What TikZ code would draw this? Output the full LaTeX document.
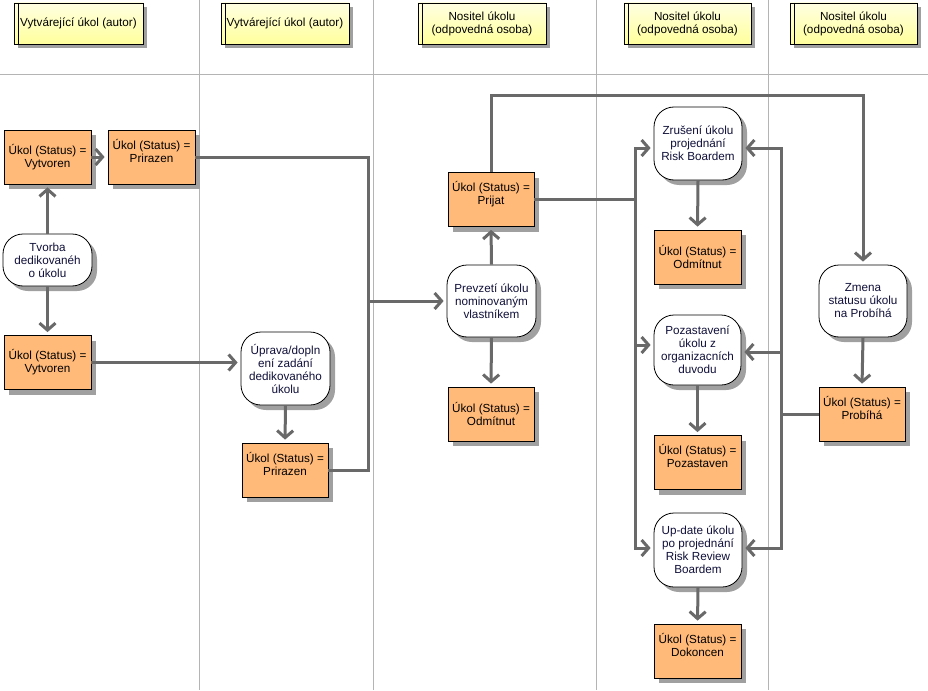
\documentclass[tikz,border=0pt]{standalone}
\usepackage{fontspec}
\setmainfont{Liberation Sans}
\usetikzlibrary{arrows.meta,shadows,backgrounds}

\definecolor{boxorange}{HTML}{FFB978}
\definecolor{shadegray}{HTML}{A0A0A0}
\definecolor{wiregray}{HTML}{696969}
\definecolor{lanegray}{HTML}{B4B4B4}
\definecolor{headtop}{HTML}{FFFFE2}
\definecolor{headbot}{HTML}{FFFF9C}
\definecolor{inktext}{HTML}{10103A}

\tikzset{
  base/.style={inner sep=0pt, align=center, draw=black, line width=0.8pt,
    font=\fontsize{11.7}{13}\selectfont},
  lanehead/.style={base, minimum width=128pt, minimum height=41pt,
    top color=headtop, bottom color=headbot,
    drop shadow={shadow xshift=4pt, shadow yshift=-4pt, fill=shadegray, opacity=1},
    path picture={\draw[line width=0.8pt]
      ([xshift=4pt]path picture bounding box.north west) --
      ([xshift=4pt]path picture bounding box.south west);}},
  statebox/.style={base, fill=boxorange, minimum width=87pt, minimum height=54pt,
    drop shadow={shadow xshift=5pt, shadow yshift=-5pt, fill=shadegray, opacity=1}},
  lifted/.style={text depth=13pt},
  activity/.style={base, fill=white, text=inktext, rounded corners=20pt,
    minimum width=88pt, minimum height=72pt,
    drop shadow={shadow xshift=5pt, shadow yshift=-5pt, fill=shadegray, opacity=1}},
  wire/.style={draw=wiregray, line width=3pt},
  conn/.style={wire, -{Straight Barb[length=7pt,width=16pt,line width=3pt]}, shorten >=3pt},
  lane/.style={draw=lanegray, line width=1pt}
}

\begin{document}
\begin{tikzpicture}[x=1pt, y=-1pt]
\useasboundingbox (0,0) rectangle (928,690);
\fill[white] (0,0) rectangle (928,690);

% swimlane grid
\draw[lane] (0,75) -- (928,75);
\foreach \lx in {199,373,596,768} \draw[lane] (\lx,0) -- (\lx,690);

% lane headers
\node[lanehead, minimum width=129pt] (h1) at (78.5,23.5) {Vytvárející úkol (autor)};
\node[lanehead] (h2) at (285,23.5) {Vytvárející úkol (autor)};
\node[lanehead] (h3) at (482,23.5) {Nositel úkolu\\(odpovedná osoba)};
\node[lanehead, minimum width=127pt] (h4) at (687.5,23.5) {Nositel úkolu\\(odpovedná osoba)};
\node[lanehead, minimum width=127pt] (h5) at (853.5,23.5) {Nositel úkolu\\(odpovedná osoba)};

% states
\node[statebox] (v1) at (47.5,157) {Úkol (Status) =\\Vytvoren};
\node[statebox, lifted] (p1) at (151.5,157) {Úkol (Status) =\\Prirazen};
\node[statebox] (v2) at (47.5,362.5) {Úkol (Status) =\\Vytvoren};
\node[statebox, lifted, minimum width=86pt] (p2) at (285,470) {Úkol (Status) =\\Prirazen};
\node[statebox, lifted, minimum width=86pt] (prijat) at (491,199.5) {Úkol (Status) =\\Prijat};
\node[statebox, minimum width=86pt] (odm1) at (491,414) {Úkol (Status) =\\Odmítnut};
\node[statebox] (odm2) at (697.5,257) {Úkol (Status) =\\Odmítnut};
\node[statebox, lifted] (poz) at (697.5,462.5) {Úkol (Status) =\\Pozastaven};
\node[statebox, lifted] (dok) at (697.5,651) {Úkol (Status) =\\Dokoncen};
\node[statebox, lifted, minimum width=86pt] (prob) at (862,414) {Úkol (Status) =\\Probíhá};

% activities
\node[activity, minimum width=89pt, minimum height=52pt] (tvorba) at (47.5,260) {Tvorba\\dedikovanéh\\o úkolu};
\node[activity, minimum width=89pt, minimum height=73pt] (upr) at (285.5,368.5) {Úprava/dopln\\ení zadání\\dedikovaného\\úkolu};
\node[activity, minimum width=89pt] (prevz) at (491.5,301) {Prevzetí úkolu\\nominovaným\\vlastníkem};
\node[activity, minimum height=73pt] (zrus) at (698,143.5) {Zrušení úkolu\\projednání\\Risk Boardem};
\node[activity] (zmena) at (863,301) {Zmena\\statusu úkolu\\na Probíhá};
\node[activity, minimum width=87pt, minimum height=70pt] (pozast) at (697.5,350) {Pozastavení\\úkolu z\\organizacních\\duvodu};
\node[activity, minimum height=74pt] (upd) at (698,550) {Up-date úkolu\\po projednání\\Risk Review\\Boardem};

% junction points of the merged wires
\coordinate (jA) at (368,301);
\coordinate (jB) at (635,199.5);
\coordinate (jC) at (781,414);
\coordinate (topwire) at (0,96);

% author lanes
\draw[conn] (tvorba.north) -- (v1.south);
\draw[conn] (tvorba.south) -- (v2.north);
\draw[conn] (v1.east) -- (p1.west);
\draw[conn] (v2.east) -- (v2.east -| upr.west);
\draw[conn] (upr.south) -- (p2.north);
\draw[conn] (p1.east) -| (jA) -- (prevz.west);
\draw[wire] (p2.east) -| (jA);

% owner lane
\draw[conn] (prevz.north) -- (prijat.south);
\draw[conn] (prevz.south) -- (odm1.north);
\draw[conn] (prijat.north) -- (prijat.north |- topwire) -| (zmena.north);
\draw[wire] (prijat.east) -- (jB);
\draw[conn] (jB) |- ([yshift=-4.5pt]zrus.west);
\draw[conn] (jB) |- ([yshift=5pt]pozast.west);
\draw[conn] (jB) |- ([yshift=2pt]upd.west);

\draw[conn] (zrus.south) -- (odm2.north);
\draw[conn] (pozast.south) -- (poz.north);
\draw[conn] (upd.south) -- (dok.north);

\draw[conn] (zmena.south) -- (prob.north);
\draw[wire] (prob.west) -- (jC);
\draw[conn] (jC) |- ([yshift=-4.5pt]zrus.east);
\draw[conn] (jC) |- ([yshift=-2pt]pozast.east);
\draw[conn] (jC) |- ([yshift=2pt]upd.east);
\end{tikzpicture}
\end{document}
